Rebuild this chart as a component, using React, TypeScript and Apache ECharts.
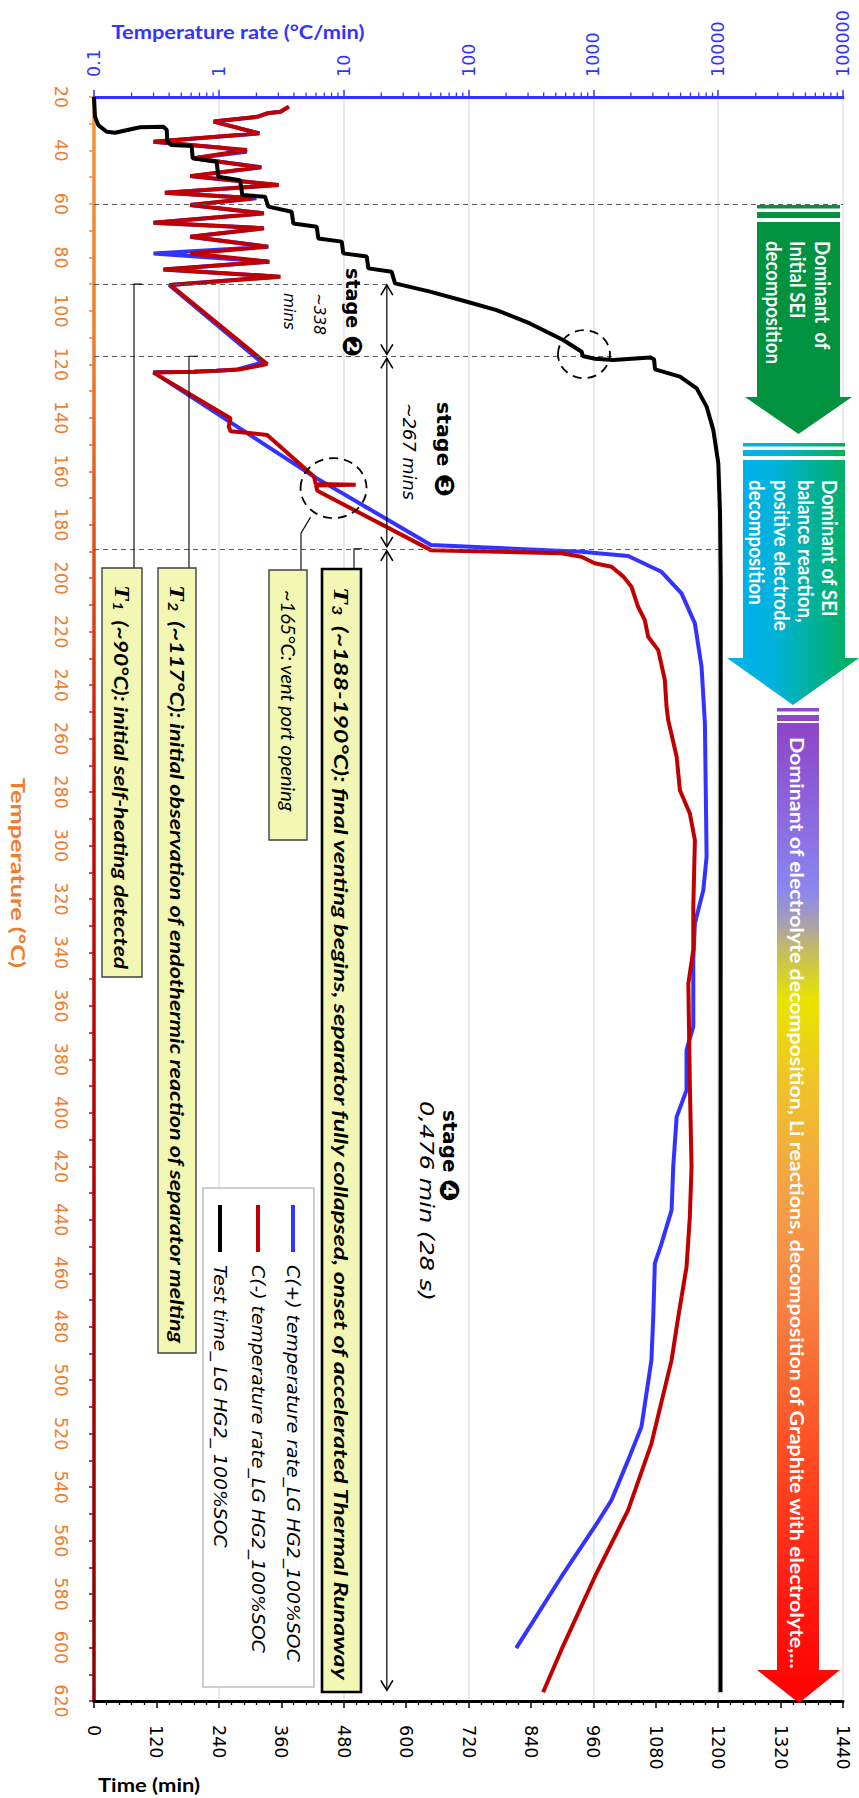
import React, { useEffect, useRef } from 'react';
import * as echarts from 'echarts';

// ---------- axis tick labels ----------
const rateTickLabels = ['0.1', '1', '10', '100', '1000', '10000', '100000'];

// ---------- series names ----------
const seriesNames = [
  'C(+) temperature rate_LG HG2_100%SOC',
  'C(-) temperature rate_LG HG2_100%SOC',
  'Test time_ LG HG2_ 100%SOC',
];

// ---------- C(+) : temperature (°C) vs temperature rate (°C/min) ----------
const blueTemp = [23.6, 25.5, 26.1, 27.4, 29.2, 33.6, 36.7, 39.0, 40.5, 42.9, 46.3, 49.6, 52.9, 55.8, 57.9, 60.4, 63.5, 67.0, 69.1, 72.3, 76.0, 78.5, 81.6, 84.5, 87.2, 90.3, 119.4, 121.9, 122.4, 122.8, 123.0, 162.0, 187.6, 190.1, 191.7, 197.6, 205.7, 216.9, 233.1, 254.3, 304.2, 316.7, 329.1, 342.9, 367.8, 376.5, 391.5, 401.5, 420.2, 436.4, 448.9, 456.3, 476.3, 492.5, 517.4, 529.9, 544.9, 554.8, 573.6, 600.2];
const blueRate = [3.64, 3.12, 2.44, 2.03, 0.91, 2.12, 0.30, 1.05, 1.68, 0.63, 2.2, 0.59, 2.9, 0.37, 2.0, 0.59, 2.3, 0.30, 2.3, 0.59, 2.5, 0.30, 2.55, 0.36, 3.0, 0.40, 2.22, 1.4, 0.95, 0.63, 0.30, 5.78, 50, 802, 1900, 3516, 5090, 6510, 7360, 7830, 8080, 7600, 6510, 6320, 6320, 5580, 5580, 4650, 4365, 4235, 3516, 3110, 3020, 2920, 2430, 1900, 1397, 1026, 553, 241];

// ---------- C(-) : temperature (°C) vs temperature rate (°C/min) ----------
const redTemp = [23.6, 25.5, 26.1, 27.4, 29.2, 33.6, 36.7, 39.8, 42.9, 46.3, 49.6, 52.9, 55.8, 57.9, 60.4, 63.5, 67.0, 69.1, 72.3, 76.0, 78.5, 81.6, 84.5, 87.2, 90.3, 119.9, 121.9, 122.4, 122.8, 123.1, 140.2, 143.3, 145.0, 145.6, 146.4, 162.0, 164.8, 165.0, 165.3, 167.3, 189.5, 190.7, 192.0, 194.4, 195.7, 199.5, 203.2, 210.7, 215.7, 221.9, 226.9, 238.1, 248.1, 253.1, 266.8, 279.3, 288.0, 298.0, 322.9, 339.1, 351.6, 389.0, 420.2, 438.9, 457.6, 476.3, 492.5, 523.7, 548.6, 573.6, 601.0, 616.7];
const redRate = [3.64, 3.12, 2.44, 2.03, 0.91, 2.09, 0.30, 1.68, 0.63, 2.15, 0.59, 3.02, 0.37, 1.91, 0.59, 2.29, 0.30, 2.29, 0.59, 2.44, 0.59, 2.51, 0.36, 3.12, 0.41, 2.44, 1.49, 0.97, 0.63, 0.30, 1.24, 1.20, 1.24, 1.68, 2.44, 5.78, 5.97, 12.5, 6.0, 6.15, 50, 553, 802, 1026, 1400, 1750, 2020, 2285, 2585, 2750, 3310, 3740, 3860, 3980, 4650, 4940, 5930, 6510, 6320, 6320, 5770, 5930, 6120, 5930, 5580, 4790, 4235, 2920, 1900, 1026, 553, 396];

// ---------- Test time : time (min) vs temperature (°C) ----------
const blackTime = [0, 1.9, 8.3, 24.4, 40.4, 88.4, 133.3, 139.8, 141, 149.3, 187.8, 189.7, 235.8, 239, 280.7, 285.2, 328.8, 335.1, 380, 383.2, 428.2, 431.3, 476.2, 479.3, 524.3, 527.4, 572.3, 578.7, 646, 717, 774, 838, 902, 937.6, 939.5, 963, 998.5, 1069, 1076.7, 1078.6, 1126.6, 1158.7, 1178, 1190.7, 1200.3, 1203.6, 1204.9, 1204.5];
const blackTemp = [20, 27.4, 30.5, 33, 33.4, 31.3, 31.1, 32.3, 36.7, 38, 38.3, 42.9, 44.2, 49.8, 51.1, 56.7, 57.3, 61, 62.9, 67.3, 68.5, 72.9, 74.1, 78.5, 79.7, 84.1, 85.4, 89.7, 92.8, 96.6, 99.7, 104.7, 110.9, 115.3, 116.9, 117.9, 118.4, 117.4, 118.1, 121.9, 124.6, 129, 135.9, 144.6, 157, 175.7, 200.7, 616.7];

// ---------- annotation anchors ----------
const boundaryTemps = [60, 90, 117, 189];
const boundaryEndTimes = [1440, 569, 998, 1203];
const stageArrowTime = 563;
const stage4EndTemp = 616;
const ventCircle = { rate: 8.3, temp: 166.3 };
const kinkCircle = { time: 942, temp: 116.2 };
const minorMultipliers = [2, 3, 4, 5, 6, 7, 8, 9];
const decades = [0.1, 1, 10, 100, 1000, 10000];

const BLUE = '#3333ff';
const RED = '#c00000';
const ORANGE = '#ee7d2d';
const BOXFILL = '#f2f8b4';

export default function App() {
  const ref = useRef<HTMLDivElement>(null);

  useEffect(() => {
    const el = ref.current;
    if (!el) return;
    const chart = echarts.init(el, undefined, { renderer: 'svg' });

    const yGrad = () =>
      new echarts.graphic.LinearGradient(0, 97, 0, 1701, [
        { offset: 0, color: '#f5943c' },
        { offset: 0.15, color: '#ef7d2a' },
        { offset: 0.3, color: '#dc4a16' },
        { offset: 0.45, color: '#c80a06' },
        { offset: 0.7, color: '#b00000' },
        { offset: 1, color: '#8b0000' },
      ], true);

    const tickFont = 'DejaVu Sans';

    chart.setOption({
      animation: false,
      backgroundColor: '#ffffff',
      grid: { left: 94, right: 16, top: 97, bottom: 97 },
      legend: { show: false },
      xAxis: [
        {
          type: 'log', logBase: 10, min: 0.1, max: 100000, position: 'top',
          axisLine: { show: true, onZero: false, lineStyle: { color: BLUE, width: 3 } },
          axisTick: { show: true, length: 7, lineStyle: { color: BLUE, width: 1.5 } },
          axisLabel: {
            rotate: -90, margin: 20, color: BLUE, fontSize: 17.5, fontFamily: tickFont,
            formatter: (v: number) => rateTickLabels[Math.round(Math.log10(v)) + 1] ?? '',
          },
          splitLine: { show: true, lineStyle: { color: '#e3e3e3', width: 1.5 } },
        },
        {
          type: 'value', min: 0, max: 1440, interval: 120, position: 'bottom',
          axisLine: { show: true, onZero: false, lineStyle: { color: '#000', width: 3 } },
          axisTick: { show: true, length: 7, lineStyle: { color: '#000', width: 1.5 } },
          minorTick: { show: true, splitNumber: 5, length: 4, lineStyle: { color: '#000', width: 1.3 } },
          axisLabel: {
            rotate: -90, margin: 24, color: '#000', fontSize: 17.5, fontFamily: tickFont,
            formatter: (v: number) => String(Math.round(v)),
          },
          splitLine: { show: false },
        },
      ],
      yAxis: {
        type: 'value', inverse: true, min: 20, max: 620, interval: 20,
        axisLine: { show: true, onZero: false, lineStyle: { color: yGrad(), width: 3.5 } },
        axisTick: { show: true, length: 5, lineStyle: { color: yGrad(), width: 1.5 } },
        minorTick: { show: true, splitNumber: 2, length: 5, lineStyle: { color: yGrad(), width: 1.5 } },
        axisLabel: {
          rotate: -90, margin: 24, color: ORANGE, fontSize: 17.5, fontFamily: tickFont,
          formatter: (v: number) => String(Math.round(v)),
        },
        splitLine: { show: false },
      },
      series: [
        {
          name: seriesNames[0], type: 'line', xAxisIndex: 0, yAxisIndex: 0,
          data: blueTemp.map((T, i) => [blueRate[i], T]),
          showSymbol: false, symbol: 'none', silent: true, z: 3,
          lineStyle: { color: BLUE, width: 4 }, itemStyle: { color: BLUE },
        },
        {
          name: seriesNames[1], type: 'line', xAxisIndex: 0, yAxisIndex: 0,
          data: redTemp.map((T, i) => [redRate[i], T]),
          showSymbol: false, symbol: 'none', silent: true, z: 4,
          lineStyle: { color: RED, width: 4 }, itemStyle: { color: RED },
        },
        {
          name: seriesNames[2], type: 'line', xAxisIndex: 1, yAxisIndex: 0,
          data: blackTime.map((t, i) => [t, blackTemp[i]]),
          showSymbol: false, symbol: 'none', silent: true, z: 5,
          lineStyle: { color: '#000', width: 4 }, itemStyle: { color: '#000' },
          markLine: {
            silent: true, symbol: ['none', 'none'], label: { show: false },
            lineStyle: { type: [5, 4], color: '#595959', width: 1.2 },
            data: boundaryTemps.map((T, i) => [{ coord: [0, T] }, { coord: [boundaryEndTimes[i], T] }]),
          },
        },
      ],
    });

    const pt = (t: number, T: number) => chart.convertToPixel({ seriesIndex: 2 }, [t, T]) as number[];
    const pr = (r: number, T: number) => chart.convertToPixel({ seriesIndex: 0 }, [r, T]) as number[];
    const yOf = (T: number) => pt(0, T)[1];

    const ctx = document.createElement('canvas').getContext('2d') as CanvasRenderingContext2D;
    const tw = (s: string, f: string) => { ctx.font = f; return ctx.measureText(s).width; };
    const fstr = (size: number, family: string, weight = 'normal', style = 'normal') => `${style} ${weight} ${size}px "${family}"`;

    const vtext = (cx: number, top: number, text: string, s: any, sx = 1, rich?: any) => ({
      type: 'text', x: cx, y: top, rotation: -Math.PI / 2, scaleX: sx, z: 60, silent: true,
      style: {
        text, fill: s.color, fontSize: s.size, fontFamily: s.family,
        fontWeight: s.weight || 'normal', fontStyle: s.style || 'normal',
        lineHeight: s.lineHeight, align: 'left', verticalAlign: 'middle', rich,
      },
    });
    const vfit = (cx: number, top: number, text: string, s: any, target: number, measureLine?: string) => {
      const w = tw(measureLine ?? text, fstr(s.size, s.family, s.weight, s.style));
      return vtext(cx, top, text, s, target / w);
    };

    const els: any[] = [];
    const top = yOf(20);

    // minor log ticks on the top axis
    decades.forEach((d) => minorMultipliers.forEach((m) => {
      const x = pr(d * m, 20)[0];
      els.push({ type: 'line', z: 20, silent: true, shape: { x1: x, y1: top, x2: x, y2: top - 4.5 }, style: { stroke: BLUE, lineWidth: 1.3 } });
    }));

    // ---------- coloured reaction arrows ----------
    const arrow = (x0: number, x1: number, yb: number, yBody: number, yHead: number, hx0: number, hx1: number, tipX: number, yTip: number, fill: any, barFill: any) => {
      els.push({ type: 'rect', z: 30, silent: true, shape: { x: x0, y: yb, width: x1 - x0, height: 3.5 }, style: { fill: barFill } });
      els.push({ type: 'rect', z: 30, silent: true, shape: { x: x0, y: yb + 7, width: x1 - x0, height: 6 }, style: { fill: barFill } });
      els.push({
        type: 'polygon', z: 30, silent: true,
        shape: { points: [[x0, yBody], [x1, yBody], [x1, yHead], [hx1, yHead], [tipX, yTip], [hx0, yHead], [x0, yHead]] },
        style: { fill },
      });
    };
    arrow(757, 840, 205, 222, 397, 745, 852, 798.5, 434, '#00923f', '#00923f');
    const cyanGrad = () => new echarts.graphic.LinearGradient(0, 0, 1, 0, [
      { offset: 0, color: '#00b0f0' }, { offset: 0.35, color: '#00b2dc' }, { offset: 1, color: '#00b050' },
    ]);
    arrow(743, 845, 443, 460, 658, 727, 859, 793, 705, cyanGrad(), cyanGrad());
    const rainbow = new echarts.graphic.LinearGradient(0, 0, 0, 1, [
      { offset: 0, color: '#8e44c8' },
      { offset: 0.17, color: '#8a86f0' },
      { offset: 0.204, color: '#a8a0b0' },
      { offset: 0.232, color: '#c4bc60' },
      { offset: 0.283, color: '#e8e400' },
      { offset: 0.367, color: '#f0c428' },
      { offset: 0.469, color: '#f4a444' },
      { offset: 0.571, color: '#f88a48' },
      { offset: 0.657, color: '#f86c34' },
      { offset: 0.752, color: '#ff4a22' },
      { offset: 0.888, color: '#ff1c12' },
      { offset: 1, color: '#ff0000' },
    ]);
    arrow(777, 819, 708, 723, 1670, 757, 840, 799, 1703, rainbow, '#9048c8');

    const wBold20 = { size: 20, family: 'Lato', weight: 'bold', color: '#ffffff', lineHeight: 24.5 };
    els.push(vfit(798, 241, 'Dominant  of\nInitial SEI\ndecomposition', wBold20, 123, 'decomposition'));
    els.push(vfit(793.5, 480, 'Dominant of SEI\nbalance reaction,\npositive electrode\ndecomposition', { ...wBold20, lineHeight: 24.3 }, 125, 'decomposition'));
    els.push(vfit(798, 737, 'Dominant of electrolyte decomposition, Li reactions, decomposition of Graphite with electrolyte,...',
      { size: 19, family: 'Lato', weight: 'bold', color: '#ffffff' }, 933));

    // ---------- stage arrows ----------
    const ax = pt(stageArrowTime, 20)[0];
    const dArrow = (ya: number, yb: number) => {
      els.push({ type: 'line', z: 40, silent: true, shape: { x1: ax, y1: ya, x2: ax, y2: yb }, style: { stroke: '#000', lineWidth: 1.2 } });
      els.push({ type: 'polyline', z: 40, silent: true, shape: { points: [[ax - 6, ya + 10], [ax, ya], [ax + 6, ya + 10]] }, style: { stroke: '#000', lineWidth: 1.6, fill: 'none' } });
      els.push({ type: 'polyline', z: 40, silent: true, shape: { points: [[ax - 6, yb - 10], [ax, yb], [ax + 6, yb - 10]] }, style: { stroke: '#000', lineWidth: 1.6, fill: 'none' } });
    };
    dArrow(yOf(boundaryTemps[1]) + 1, yOf(boundaryTemps[2]) - 2);
    dArrow(yOf(boundaryTemps[2]) + 2, yOf(boundaryTemps[3]) - 2);
    dArrow(yOf(boundaryTemps[3]) + 2, yOf(stage4EndTemp));

    const stageRich = {
      a: { fontFamily: 'DejaVu Sans', fontWeight: 'bold', fontSize: 20, fill: '#000' },
      b: { fontFamily: 'DejaVu Sans', fontWeight: 'bold', fontSize: 27, fill: '#000' },
    };
    const stageLabel = (cx: number, y0: number, digit: string, target: number) => {
      const w = tw('stage ', fstr(20, 'DejaVu Sans', 'bold')) + tw(digit, fstr(27, 'DejaVu Sans', 'bold'));
      els.push(vtext(cx, y0, `{a|stage }{b|${digit}}`, { size: 20, family: 'DejaVu Sans', weight: 'bold', color: '#000' }, target / w, stageRich));
    };
    const obl = (size: number) => ({ size, family: 'DejaVu Sans', style: 'italic', color: '#000' });
    stageLabel(353, 268, '❷', 89);
    els.push(vfit(305, 293, '~338\nmins', { ...obl(16), lineHeight: 30 }, 42, '~338'));
    stageLabel(444, 402, '❸', 95);
    els.push(vfit(410, 403, '~267 mins', obl(18.5), 97));
    stageLabel(450, 1110, '❹', 92);
    els.push(vfit(427, 1101, '0,476 min (28 s)', obl(19), 200));

    // ---------- dashed circles ----------
    const kc = pt(kinkCircle.time, kinkCircle.temp);
    const vc = pr(ventCircle.rate, ventCircle.temp);
    els.push({ type: 'ellipse', z: 45, silent: true, shape: { cx: kc[0], cy: kc[1], rx: 26, ry: 24 }, style: { fill: 'none', stroke: '#000', lineWidth: 1.8, lineDash: [9, 6] } });
    els.push({ type: 'ellipse', z: 45, silent: true, shape: { cx: vc[0], cy: vc[1], rx: 33, ry: 30 }, style: { fill: 'none', stroke: '#000', lineWidth: 1.8, lineDash: [9, 6] } });

    // ---------- annotation boxes ----------
    const box = (x0: number, x1: number, y0: number, y1: number, stroke: string, lw: number) =>
      els.push({ type: 'rect', z: 50, silent: true, shape: { x: x0, y: y0, width: x1 - x0, height: y1 - y0 }, style: { fill: BOXFILL, stroke, lineWidth: lw } });
    const conn = (pts: number[][]) =>
      els.push({ type: 'polyline', z: 50, silent: true, shape: { points: pts }, style: { stroke: '#000', lineWidth: 1.1, fill: 'none' } });

    const y90 = yOf(boundaryTemps[1]);
    const y117 = yOf(boundaryTemps[2]);
    const y189 = yOf(boundaryTemps[3]);
    conn([[142, y90], [134, y90], [134, 568]]);
    conn([[198, y117], [189, y117], [189, 568]]);
    conn([[vc[0] - 23, vc[1] + 29], [301, vc[1] + 45], [301, 570]]);
    conn([[362, y189], [354, y189], [354, 569]]);

    box(102, 142, 568, 977, '#404040', 1.4);
    box(158, 196, 568, 1353, '#404040', 1.4);
    box(269, 307, 570, 840, '#404040', 1.4);
    box(322, 361, 569, 1692, '#000000', 2.6);

    const fT = fstr(21, 'Liberation Serif', 'bold', 'italic');
    const fSub = fstr(13, 'Lato', 'bold', 'italic');
    const fN = fstr(19, 'Lato', 'bold', 'italic');
    const tRich = {
      t: { fontFamily: 'Liberation Serif', fontStyle: 'italic', fontWeight: 'bold', fontSize: 21, fill: '#000' },
      s: { fontFamily: 'Lato', fontStyle: 'italic', fontWeight: 'bold', fontSize: 13, fill: '#000', verticalAlign: 'bottom', padding: [0, 4, 0, 1] },
      n: { fontFamily: 'Lato', fontStyle: 'italic', fontWeight: 'bold', fontSize: 19, fill: '#000' },
    };
    const tLabel = (cx: number, y0: number, idx: string, rest: string, target: number) => {
      const w = tw('T', fT) + tw(idx, fSub) + 5 + tw(rest, fN);
      els.push(vtext(cx, y0, `{t|T}{s|${idx}}{n|${rest}}`, { size: 19, family: 'Lato', weight: 'bold', style: 'italic', color: '#000' }, target / w, tRich));
    };
    tLabel(122, 585, '1', ' (~90°C): initial self-heating detected', 384);
    tLabel(177, 585, '2', ' (~117°C): initial observation of endothermic reaction of separator melting', 760);
    tLabel(341.5, 587, '3', ' (~188-190°C): final venting begins, separator fully collapsed, onset of accelerated Thermal Runaway', 1096);
    els.push(vfit(288, 590, '~165°C: vent port opening', { size: 19, family: 'Lato', style: 'italic', color: '#000' }, 222));

    // ---------- legend ----------
    els.push({ type: 'rect', z: 50, silent: true, shape: { x: 203, y: 1188, width: 111, height: 499 }, style: { fill: '#ffffff', stroke: '#bfbfbf', lineWidth: 1.5 } });
    const legStyle = { size: 18.5, family: 'DejaVu Sans', style: 'italic', color: '#000' };
    const legScale = 283 / tw(seriesNames[2], fstr(18.5, 'DejaVu Sans', 'normal', 'italic'));
    const legX = [293, 258, 220];
    const legColors = [BLUE, RED, '#000'];
    seriesNames.forEach((n, i) => {
      els.push({ type: 'line', z: 55, silent: true, shape: { x1: legX[i], y1: 1205, x2: legX[i], y2: 1252 }, style: { stroke: legColors[i], lineWidth: 4 } });
      els.push(vtext(legX[i], 1265, n, legStyle, legScale));
    });

    // ---------- axis titles ----------
    const titleF = fstr(19, 'Lato', 'bold');
    els.push({
      type: 'text', x: 238, y: 32, z: 60, silent: true, scaleX: 253 / tw('Temperature rate (°C/min)', titleF),
      style: { text: 'Temperature rate (°C/min)', fill: BLUE, fontSize: 19, fontFamily: 'Lato', fontWeight: 'bold', align: 'center', verticalAlign: 'middle' },
    });
    els.push({
      type: 'text', x: 149, y: 1785, z: 60, silent: true, scaleX: 102 / tw('Time (min)', titleF),
      style: { text: 'Time (min)', fill: '#000', fontSize: 19, fontFamily: 'Lato', fontWeight: 'bold', align: 'center', verticalAlign: 'middle' },
    });
    els.push(vfit(18.5, 778, 'Temperature (°C)', { size: 19, family: 'Lato', weight: 'bold', color: ORANGE }, 190));

    chart.setOption({ graphic: { elements: els } });

    return () => chart.dispose();
  }, []);

  return <div ref={ref} style={{ position: 'absolute', left: 0, top: 0, width: 859, height: 1798, background: '#fff' }} />;
}
